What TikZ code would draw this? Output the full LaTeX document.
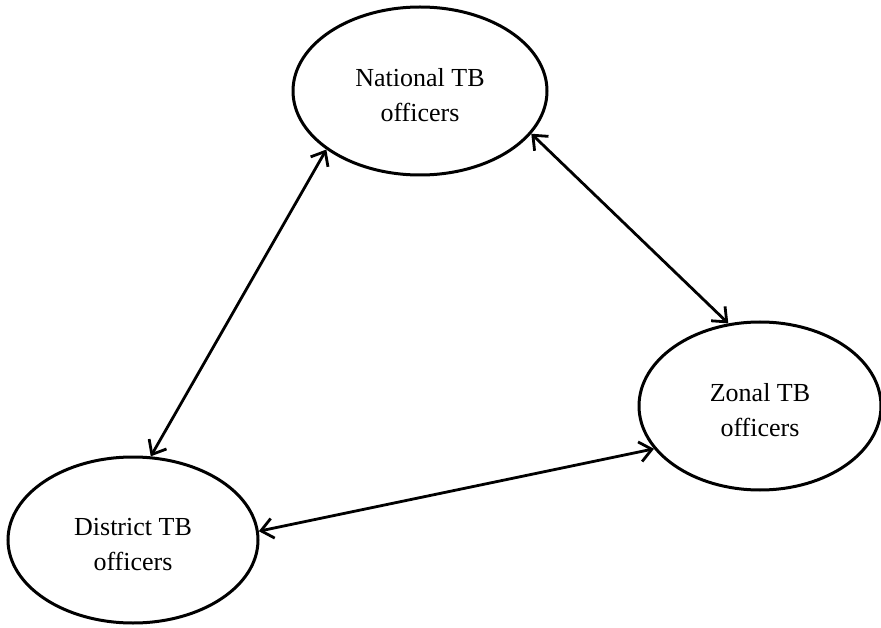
\documentclass[tikz,border=0pt]{standalone}
\usepackage{fontspec}
\setmainfont{Liberation Serif}
\usetikzlibrary{shapes.geometric,arrows.meta}
\newcommand{\officertext}[2]{\raisebox{-6pt}[\height][\depth]{\begin{tabular}{@{}c@{}}#1\\[-2pt]#2\end{tabular}}}
\begin{document}
\begin{tikzpicture}[x=1pt,y=-1pt,
  officer/.style={ellipse,draw,line width=3pt,inner sep=0pt,
    font=\fontsize{26}{37}\selectfont},
  link/.style={line width=2.8pt,{Straight Barb[length=12pt,width=20pt,line width=2.8pt]}-{Straight Barb[length=12pt,width=20pt,line width=2.8pt]}}]
\useasboundingbox (0,0) rectangle (881,628);
\node[officer,minimum width=254pt,minimum height=168pt] (nat) at (420,91) {\officertext{National TB}{officers}};
\node[officer,minimum width=242pt,minimum height=168pt] (zon) at (760,406) {\officertext{Zonal TB}{officers}};
\node[officer,minimum width=250pt,minimum height=166pt] (dis) at (133,540) {\officertext{District TB}{officers}};
\draw[link] (dis.78) -- (nat.212);
\draw[link] (nat.339) -- (zon.111);
\draw[link] (dis.4) -- (zon.202);
\end{tikzpicture}
\end{document}
